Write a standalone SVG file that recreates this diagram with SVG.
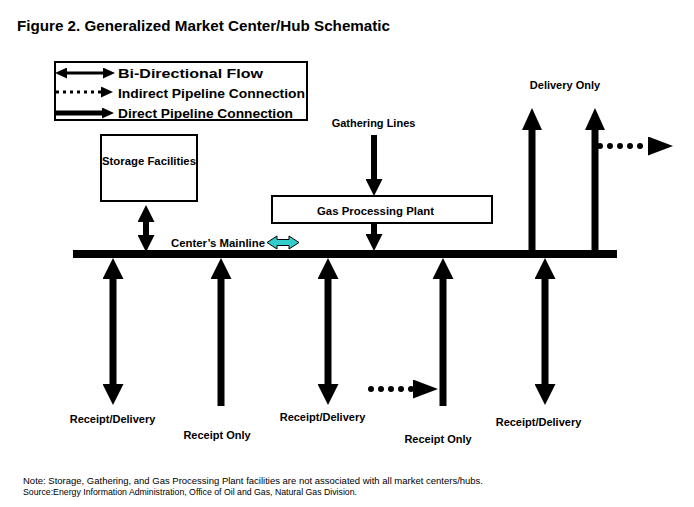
<svg xmlns="http://www.w3.org/2000/svg" width="694" height="507" viewBox="0 0 694 507">
<style>
.t{font-family:"Liberation Sans",Arial,sans-serif;font-weight:bold;fill:#000}
.n{font-family:"Liberation Sans",Arial,sans-serif;font-size:9.5px;fill:#000}
.box{fill:#fff;stroke:#000;stroke-width:2}
.sh{stroke:#000;stroke-width:7;fill:none}
.shs{stroke:#000;stroke-width:6;fill:none}
.dots{stroke:#000;stroke-width:6;stroke-linecap:round;stroke-dasharray:0 10;fill:none}
</style>
<defs>
<marker id="hL" viewBox="0 0 21 21" refX="0" refY="10.5" markerWidth="21" markerHeight="21" markerUnits="userSpaceOnUse" orient="auto-start-reverse"><path d="M0,0 L21,10.5 L0,21 z" fill="#000"/></marker>
<marker id="hD" viewBox="0 0 22 20" refX="0" refY="10" markerWidth="22" markerHeight="20" markerUnits="userSpaceOnUse" orient="auto-start-reverse"><path d="M0,0 L22,10 L0,20 z" fill="#000"/></marker>
<marker id="hM" viewBox="0 0 17 17" refX="0" refY="8.5" markerWidth="17" markerHeight="17" markerUnits="userSpaceOnUse" orient="auto-start-reverse"><path d="M0,0 L17,8.5 L0,17 z" fill="#000"/></marker>
<marker id="hS" viewBox="0 0 12 11" refX="0" refY="5.5" markerWidth="12" markerHeight="11" markerUnits="userSpaceOnUse" orient="auto-start-reverse"><path d="M0,0 L12,5.5 L0,11 z" fill="#000"/></marker>
<marker id="hP" viewBox="0 0 25 19" refX="0" refY="9.5" markerWidth="25" markerHeight="19" markerUnits="userSpaceOnUse" orient="auto-start-reverse"><path d="M0,0 L25,9.5 L0,19 z" fill="#000"/></marker>
</defs>
<rect width="694" height="507" fill="#fff"/>

<g id="title"><text class="t" x="17" y="31" font-size="14" textLength="373" lengthAdjust="spacingAndGlyphs">Figure 2. Generalized Market Center/Hub Schematic</text></g>

<g id="legend">
<rect class="box" x="55" y="62" width="252" height="58"/>
<path d="M67 73 H103" stroke="#000" stroke-width="3" marker-start="url(#hS)" marker-end="url(#hS)"/>
<path d="M56 92 H101" stroke="#000" stroke-width="3" stroke-dasharray="3 4" marker-end="url(#hS)"/>
<path d="M56 113 H102" stroke="#000" stroke-width="5" marker-end="url(#hS)"/>
<text class="t" x="118" y="78" font-size="12" textLength="145" lengthAdjust="spacingAndGlyphs">Bi-Directional Flow</text>
<text class="t" x="118" y="98" font-size="12" textLength="187" lengthAdjust="spacingAndGlyphs">Indirect Pipeline Connection</text>
<text class="t" x="118" y="118" font-size="12" textLength="175" lengthAdjust="spacingAndGlyphs">Direct Pipeline Connection</text>
</g>

<g id="storage">
<rect class="box" x="101" y="135" width="96" height="66"/>
<text class="t" x="149" y="165" font-size="11" text-anchor="middle" textLength="94" lengthAdjust="spacingAndGlyphs">Storage Facilities</text>
</g>

<g id="gas-plant">
<rect class="box" x="272" y="196" width="220" height="27"/>
<text class="t" x="375.5" y="215" font-size="11" text-anchor="middle" textLength="117" lengthAdjust="spacingAndGlyphs">Gas Processing Plant</text>
</g>

<g id="mainline">
<rect x="73" y="250" width="544" height="8" fill="#000"/>
<text class="t" x="171" y="247" font-size="11" textLength="94" lengthAdjust="spacingAndGlyphs">Center’s Mainline</text>
<polygon points="267,242.5 277,236 277,239.5 289,239.5 289,236 299,242.5 289,249 289,245.5 277,245.5 277,249" fill="#33CCCC" stroke="#000" stroke-width="1"/>
</g>

<g id="labels">
<text class="t" x="373.5" y="127" font-size="11" text-anchor="middle">Gathering Lines</text>
<text class="t" x="565" y="89" font-size="11" text-anchor="middle">Delivery Only</text>
<text class="t" x="112.5" y="423" font-size="11" text-anchor="middle">Receipt/Delivery</text>
<text class="t" x="217" y="439" font-size="11" text-anchor="middle">Receipt Only</text>
<text class="t" x="322.5" y="421" font-size="11" text-anchor="middle">Receipt/Delivery</text>
<text class="t" x="438" y="443" font-size="11" text-anchor="middle">Receipt Only</text>
<text class="t" x="538.5" y="426" font-size="11" text-anchor="middle">Receipt/Delivery</text>
</g>

<g id="connectors">
<path class="shs" d="M146 222 V235" marker-start="url(#hM)" marker-end="url(#hM)"/>
<path class="shs" d="M374 135 V179" marker-end="url(#hM)"/>
<path class="shs" d="M374 223 V234" marker-end="url(#hM)"/>
<path class="sh" d="M532 254 V130" marker-end="url(#hD)"/>
<path class="sh" d="M595 254 V130" marker-end="url(#hD)"/>
<path class="dots" d="M600 146 H648" marker-end="url(#hP)"/>
<path class="sh" d="M113 279 V384" marker-start="url(#hL)" marker-end="url(#hL)"/>
<path class="sh" d="M221 406 V279" marker-end="url(#hL)"/>
<path class="sh" d="M328 279 V384" marker-start="url(#hL)" marker-end="url(#hL)"/>
<path class="sh" d="M443 406 V279" marker-end="url(#hL)"/>
<path class="sh" d="M545 279 V384" marker-start="url(#hL)" marker-end="url(#hL)"/>
<path class="dots" d="M371 389 H413" stroke-dasharray="0 12.5" marker-end="url(#hP)"/>
</g>

<g id="notes">
<text class="n" x="23" y="484" textLength="460" lengthAdjust="spacingAndGlyphs">Note: Storage, Gathering, and Gas Processing Plant facilities are not associated with all market centers/hubs.</text>
<text class="n" x="23" y="495" textLength="334" lengthAdjust="spacingAndGlyphs">Source:Energy Information Administration, Office of Oil and Gas, Natural Gas Division.</text>
</g>
</svg>
